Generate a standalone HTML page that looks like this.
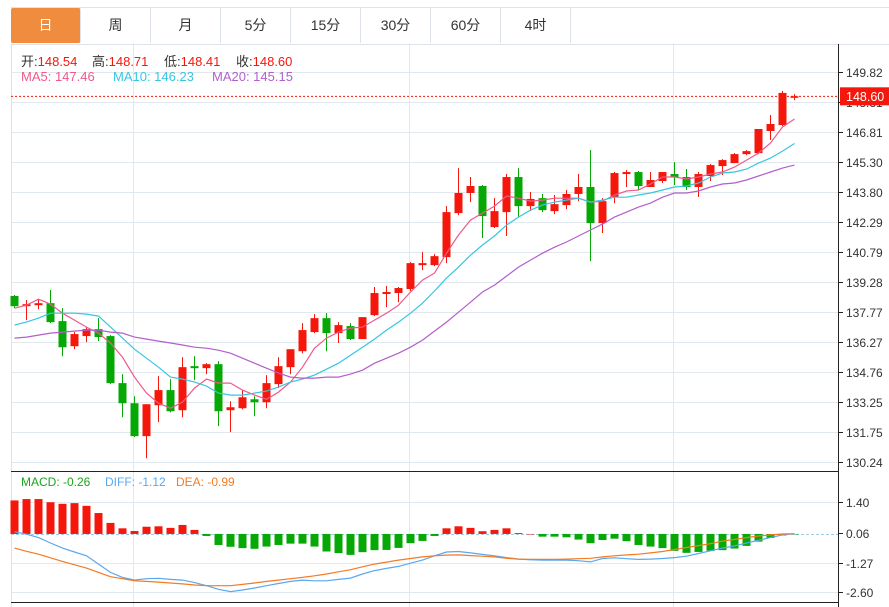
<!DOCTYPE html>
<html><head><meta charset="utf-8">
<style>
body{margin:0;background:#fff;width:889px;height:607px;overflow:hidden;font-family:"Liberation Sans","Noto Sans CJK SC",sans-serif;}
svg{position:absolute;left:0;top:0}
.tab{position:absolute;top:8px;height:35px;width:69px;border-right:1px solid #dde3e8;text-align:center;line-height:35px;font-size:14px;color:#333;}
.lg{position:absolute;font-size:13px;white-space:nowrap}
</style></head><body>
<div style="position:absolute;left:11px;top:7px;width:878px;height:36px;border-top:1px solid #dde3e8;border-bottom:1px solid #dde3e8;"></div>
<div class="tab" style="left:11px;background:#f08c3d;color:#fff;border-radius:2px">日</div>
<div class="tab" style="left:81px">周</div>
<div class="tab" style="left:151px">月</div>
<div class="tab" style="left:221px">5分</div>
<div class="tab" style="left:291px">15分</div>
<div class="tab" style="left:361px">30分</div>
<div class="tab" style="left:431px">60分</div>
<div class="tab" style="left:501px">4时</div>
<svg id="c" width="889" height="607"></svg>
<script>
const labelsY=["149.82","148.31","146.81","145.30","143.80","142.29","140.79","139.28","137.77","136.27","134.76","133.25","131.75","130.24"];
const macdTicks=["1.40","0.06","-1.27","-2.60"];
const open=[138.58,138.07,138.12,138.22,137.32,136.06,136.57,136.92,136.57,134.21,133.20,131.55,133.10,133.86,132.85,135.06,134.96,135.16,132.85,132.95,133.40,133.25,134.16,135.01,135.81,136.77,137.47,136.72,137.07,136.42,137.62,138.68,138.73,138.93,140.13,140.13,140.53,142.74,143.75,144.10,142.04,142.79,144.55,143.09,143.49,142.84,143.14,143.70,144.05,142.24,143.55,144.70,144.80,144.05,144.35,144.70,144.55,144.05,144.60,145.10,145.25,145.70,145.75,146.86,147.16,148.54];
const high=[138.63,138.38,138.43,138.88,137.97,136.77,137.02,137.47,136.62,134.66,133.55,133.15,134.56,134.41,135.51,135.56,135.21,135.31,133.30,133.86,133.55,134.61,135.51,135.91,137.22,137.67,137.72,137.27,137.22,137.52,139.03,139.08,139.03,140.28,140.78,140.68,143.09,145.00,144.55,144.15,143.49,144.70,145.00,143.80,143.70,143.65,143.90,144.70,145.90,143.49,144.80,144.90,144.85,144.80,144.80,145.30,144.95,144.80,145.20,145.45,145.75,145.90,146.96,147.66,148.87,148.71];
const low=[137.97,137.37,137.92,137.22,135.56,135.91,136.27,136.32,134.16,132.50,131.50,130.44,132.25,132.75,132.50,134.36,134.66,132.05,131.75,132.90,132.55,132.95,133.96,134.66,135.71,136.72,135.81,136.22,136.37,136.42,137.57,138.02,138.27,138.83,139.88,140.08,140.23,142.64,143.29,141.49,141.99,141.59,142.54,142.84,142.79,142.69,142.94,143.34,140.33,141.74,143.24,144.05,143.90,144.05,144.25,144.15,143.90,143.55,144.35,144.65,145.25,145.65,145.70,146.41,147.11,148.41];
const close=[138.07,138.17,138.22,137.27,136.01,136.67,136.92,136.52,134.21,133.20,131.55,133.15,133.86,132.80,135.01,134.96,135.16,132.80,133.00,133.50,133.25,134.21,135.06,135.91,136.87,137.47,136.72,137.12,136.42,137.52,138.73,138.78,138.98,140.23,140.23,140.58,142.79,143.75,144.10,142.59,142.84,144.55,143.09,143.45,142.89,143.19,143.70,144.05,142.24,143.34,144.75,144.80,144.10,144.40,144.80,144.55,144.05,144.70,145.15,145.40,145.70,145.85,146.96,147.21,148.77,148.60];
const ma5=[137.97,138.12,138.42,138.17,137.72,137.37,137.02,136.72,136.22,135.51,134.51,133.71,133.20,132.95,133.25,133.96,134.41,134.21,134.21,133.86,133.61,133.40,133.76,134.26,135.01,135.96,136.47,136.77,136.97,137.02,137.37,137.72,138.12,138.78,139.38,139.73,140.73,141.64,142.39,142.74,143.09,143.60,143.49,143.34,143.39,143.49,143.49,143.49,143.29,143.34,143.65,143.85,143.90,144.20,144.55,144.55,144.45,144.55,144.70,144.80,145.05,145.40,145.75,146.26,147.06,147.46];
const ma10=[137.12,137.27,137.47,137.72,137.72,137.72,137.67,137.57,137.02,136.47,135.91,135.46,135.01,134.51,134.41,134.26,134.06,133.71,133.61,133.61,133.71,133.81,134.01,134.26,134.41,134.61,134.91,135.21,135.61,136.01,136.42,136.87,137.27,137.72,138.22,138.83,139.48,140.03,140.63,141.14,141.59,142.14,142.54,142.89,143.14,143.29,143.39,143.49,143.29,143.39,143.54,143.54,143.65,143.75,143.90,144.05,144.10,144.25,144.55,144.75,144.80,144.95,145.25,145.50,145.85,146.23];
const ma20=[136.47,136.52,136.62,136.72,136.77,136.82,136.87,136.87,136.77,136.72,136.52,136.42,136.32,136.22,136.12,136.01,135.96,135.86,135.71,135.46,135.21,134.96,134.71,134.51,134.46,134.46,134.51,134.51,134.66,134.86,135.21,135.46,135.71,136.01,136.37,136.82,137.27,137.77,138.27,138.78,139.13,139.58,140.03,140.38,140.73,141.03,141.29,141.59,141.89,142.19,142.54,142.79,143.04,143.24,143.54,143.75,143.75,143.85,144.05,144.20,144.25,144.40,144.60,144.80,145.00,145.15];
const hist=[1.49,1.55,1.55,1.41,1.34,1.37,1.25,0.93,0.49,0.25,0.13,0.32,0.34,0.27,0.40,0.18,-0.09,-0.49,-0.57,-0.63,-0.66,-0.56,-0.49,-0.43,-0.43,-0.56,-0.78,-0.85,-0.93,-0.81,-0.72,-0.71,-0.62,-0.41,-0.31,-0.09,0.25,0.34,0.27,0.12,0.18,0.25,0.04,0.0,-0.12,-0.12,-0.15,-0.25,-0.41,-0.27,-0.21,-0.32,-0.49,-0.56,-0.63,-0.75,-0.84,-0.80,-0.75,-0.72,-0.65,-0.53,-0.34,-0.18,-0.07,-0.01];
const diff=[0.10,-0.01,-0.16,-0.40,-0.63,-0.80,-0.97,-1.34,-1.71,-1.93,-2.05,-1.99,-1.97,-2.02,-2.05,-2.16,-2.30,-2.46,-2.56,-2.49,-2.40,-2.30,-2.20,-2.11,-2.05,-2.08,-2.08,-2.02,-1.96,-1.78,-1.63,-1.53,-1.44,-1.30,-1.16,-0.97,-0.80,-0.78,-0.84,-0.91,-0.97,-1.05,-1.12,-1.15,-1.16,-1.16,-1.16,-1.19,-1.24,-1.09,-1.06,-1.10,-1.13,-1.12,-1.09,-1.05,-0.99,-0.87,-0.75,-0.63,-0.53,-0.40,-0.28,-0.16,-0.04,0.01];
const dea=[-0.63,-0.77,-0.90,-1.06,-1.22,-1.37,-1.52,-1.71,-1.90,-1.99,-2.08,-2.11,-2.14,-2.18,-2.22,-2.27,-2.30,-2.30,-2.30,-2.24,-2.18,-2.11,-2.05,-1.99,-1.93,-1.86,-1.78,-1.68,-1.59,-1.46,-1.34,-1.25,-1.16,-1.09,-1.02,-0.97,-0.94,-0.93,-0.96,-0.99,-1.02,-1.08,-1.12,-1.13,-1.13,-1.13,-1.12,-1.10,-1.08,-1.02,-0.97,-0.93,-0.90,-0.84,-0.78,-0.69,-0.60,-0.52,-0.43,-0.32,-0.24,-0.16,-0.09,-0.04,0.00,0.01];
const last=148.60;

const svg=document.getElementById('c');
const NS='http://www.w3.org/2000/svg';
function mk(tag,attrs,parent){const e=document.createElementNS(NS,tag);for(const k in attrs)e.setAttribute(k,attrs[k]);(parent||svg).appendChild(e);return e;}
const X=i=>14+12*i;
const Y=p=>72+(149.82-p)*19.93;
const MY=v=>532.6-(v-0.06)*22.5;
const RED='#f5170b',GREEN='#06a806';

const grid=mk('g',{});


labelsY.forEach(t=>{const y=Math.round(Y(parseFloat(t)))+0.5;mk('line',{x1:11,x2:838,y1:y,y2:y,stroke:'#e1e9ef','stroke-width':1},grid);});
macdTicks.forEach(t=>{const y=Math.round(MY(parseFloat(t)))+0.5;if(t!=="0.06")mk('line',{x1:11,x2:838,y1:y,y2:y,stroke:'#e1e9ef'},grid);});
[133.5,409.5,673.5].forEach(x=>mk('line',{x1:x,x2:x,y1:43,y2:607,stroke:'#e1e9ef'},grid));
mk('line',{x1:11.5,x2:11.5,y1:43,y2:607,stroke:'#dde3e8'},grid);
mk('line',{x1:11,x2:838,y1:72.5,y2:72.5,stroke:'#e1e9ef'},grid);
const z=Math.round(MY(0))+0.5;
const zl=mk('line',{x1:11,x2:838,y1:z,y2:z,stroke:'#9fcbe6','stroke-dasharray':'3,2'});


mk('line',{x1:11,x2:838,y1:471.5,y2:471.5,stroke:'#222'});
mk('line',{x1:11,x2:838,y1:602.5,y2:602.5,stroke:'#222'});
const ax=mk('line',{x1:838.5,x2:838.5,y1:44,y2:607,stroke:'#222'});


labelsY.forEach(t=>{const y=Math.round(Y(parseFloat(t)))+0.5;mk('line',{x1:838,x2:843,y1:y,y2:y,stroke:'#222'});
 const tx=mk('text',{x:846,y:y+4.5,'font-size':12,fill:'#333','font-family':'Liberation Sans'});tx.textContent=t;
 
 });
macdTicks.forEach(t=>{const y=Math.round(MY(parseFloat(t)))+0.5;mk('line',{x1:838,x2:843,y1:y,y2:y,stroke:'#222'});
 const tx=mk('text',{x:846,y:y+4.5,'font-size':12,fill:'#333','font-family':'Liberation Sans'});tx.textContent=t;
 
 });
close.forEach((c,i)=>{const o=open[i],up=c>=o,col=up?RED:GREEN;const g=mk('g',{});
 
 
 const x=X(i);mk('line',{x1:x+0.5,x2:x+0.5,y1:Y(high[i]),y2:Y(low[i]),stroke:col},g);
 const t=Y(Math.max(o,c)),b=Y(Math.min(o,c));mk('rect',{x:x-3.5,y:t,width:8,height:Math.max(1.5,b-t),fill:col},g);});
function line(arr,col,name,yf){const l=mk('polyline',{points:arr.map((v,i)=>(X(i)+0.5)+','+yf(v).toFixed(1)).join(' '),fill:'none',stroke:col,'stroke-width':1.2});
 
 }
line(ma5,'#ee5a8c','ma5-line',Y);line(ma10,'#37c6e0','ma10-line',Y);line(ma20,'#b35fcb','ma20-line',Y);
const ly=Y(last);
const lp=mk('line',{x1:11,x2:838,y1:ly,y2:ly,stroke:RED,'stroke-dasharray':'2,2'});


const lb=mk('rect',{x:840,y:ly-9,width:49,height:18,fill:RED});


const lt=mk('text',{x:846,y:ly+4.5,'font-size':12.5,fill:'#fff','font-family':'Liberation Sans'});lt.textContent=last.toFixed(2);
hist.forEach((v,i)=>{const y0=MY(0),y1=MY(v);const r=mk('rect',{x:X(i)-3.5,y:Math.min(y0,y1),width:8,height:Math.max(0.5,Math.abs(y1-y0)),fill:v>=0?RED:GREEN});
 
 });
line(diff,'#5aa8ee','diff-line',MY);line(dea,'#f57a23','dea-line',MY);
</script>
<div style="position:absolute;left:0;top:51px;width:400px;height:18px;color:#333">
<span class="lg" style="left:21px">开:<span style="color:#f5170b">148.54</span></span>
<span class="lg" style="left:92px">高:<span style="color:#f5170b">148.71</span></span>
<span class="lg" style="left:164px">低:<span style="color:#f5170b">148.41</span></span>
<span class="lg" style="left:236px">收:<span style="color:#f5170b">148.60</span></span>
</div>
<div style="position:absolute;left:0;top:69px;width:400px;height:18px">
<span class="lg" style="left:21px;color:#ee5a8c">MA5: 147.46</span>
<span class="lg" style="left:113px;color:#37c6e0">MA10: 146.23</span>
<span class="lg" style="left:212px;color:#b35fcb">MA20: 145.15</span>
</div>
<div style="position:absolute;left:0;top:475px;width:400px;height:18px">
<span class="lg" style="left:21px;font-size:12px;color:#1aa51a">MACD: -0.26</span>
<span class="lg" style="left:105px;font-size:12px;color:#5aa8ee">DIFF: -1.12</span>
<span class="lg" style="left:176px;font-size:12px;color:#f57a23">DEA: -0.99</span>
</div>
</body></html>
